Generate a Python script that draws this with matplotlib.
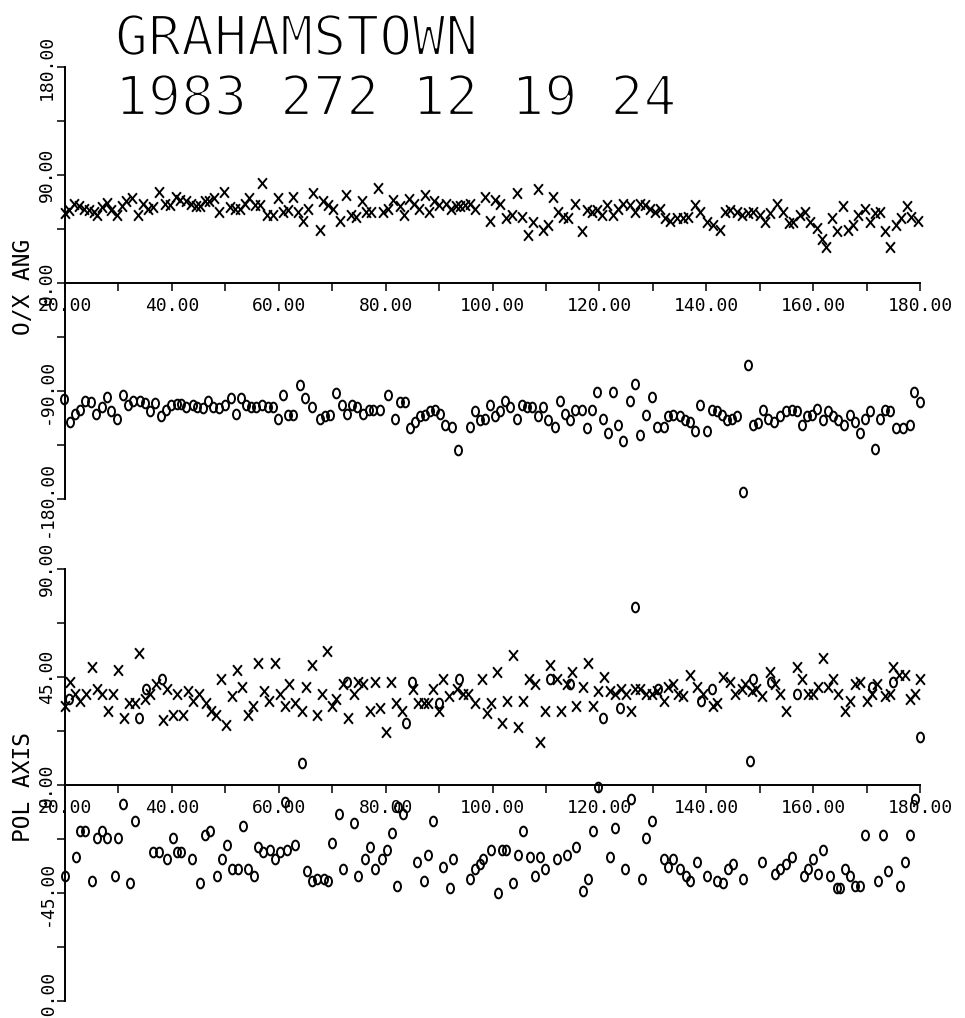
import numpy as np
import matplotlib
matplotlib.use("Agg")
import matplotlib.pyplot as plt
from matplotlib.path import Path
from matplotlib.transforms import Affine2D
from matplotlib.ticker import MultipleLocator, FormatStrFormatter
import matplotlib.patheffects as pe

# ---------------- data ----------------
title_line1 = "GRAHAMSTOWN"
title_line2 = "1983 272 12 19 24"
top_ylabel = "O/X ANG"
bottom_ylabel = "POL AXIS"

# O/X angle, X mode
top_x_freq = [20.0, 20.8, 21.7, 22.7, 23.6, 24.5, 25.4, 26.0, 26.9, 27.8, 28.7, 29.7, 30.6, 31.5, 32.6,
              33.7, 34.6, 35.6, 36.5, 37.6, 38.7, 39.6, 40.7, 41.6, 42.6, 43.5, 44.5, 45.2, 46.2, 47.0,
              47.9, 48.8, 49.7, 50.8, 51.8, 52.7, 53.6, 54.5, 55.5, 56.4, 56.9, 57.8, 58.9, 59.9, 60.8,
              61.7, 62.7, 63.6, 64.5, 65.5, 66.4, 67.7, 68.3, 69.2, 70.2, 71.4, 72.6, 73.6, 74.5, 75.5,
              76.4, 77.3, 78.6, 79.5, 80.4, 81.3, 82.6, 83.5, 84.4, 85.4, 86.3, 87.3, 88.2, 89.1, 90.0,
              91.3, 92.2, 93.1, 94.0, 94.9, 95.8, 96.7, 98.6, 99.5, 100.5, 101.4, 102.6, 103.6, 104.5,
              105.5, 106.7, 107.6, 108.6, 109.5, 110.4, 111.4, 112.3, 113.2, 114.2, 115.4, 116.7, 117.6,
              118.6, 119.5, 120.4, 121.4, 122.6, 123.5, 124.5, 125.7, 126.7, 127.6, 128.5, 129.5, 130.4,
              131.3, 132.3, 133.2, 134.5, 135.7, 136.6, 137.9, 138.8, 140.1, 141.3, 142.6, 143.5, 144.4,
              145.7, 146.6, 147.9, 148.8, 150.0, 151.0, 151.9, 153.2, 154.4, 155.4, 156.3, 157.5, 158.5,
              159.4, 160.7, 161.6, 162.5, 163.5, 164.4, 165.6, 166.6, 167.5, 168.4, 169.7, 170.6, 171.5,
              172.5, 173.4, 174.3, 175.6, 176.5, 177.5, 178.4, 179.7]
top_x_val = [58, 61, 66, 64, 62, 61, 59, 57, 63, 67, 61, 57, 64, 68, 71,
             57, 66, 62, 63, 76, 66, 65, 72, 69, 68, 66, 64, 64, 68, 68,
             71, 59, 76, 63, 62, 62, 66, 71, 65, 65, 83, 57, 57, 71, 59,
             61, 72, 59, 52, 62, 75, 44, 68, 65, 62, 52, 73, 57, 55, 68,
             59, 59, 79, 59, 62, 69, 64, 57, 70, 66, 62, 73, 59, 68, 65,
             66, 62, 64, 64, 65, 66, 62, 72, 52, 69, 66, 54, 57, 75,
             55, 40, 51, 78, 44, 48, 72, 59, 55, 54, 66, 43, 61,
             59, 61, 57, 65, 57, 62, 66, 65, 59, 66, 65, 62, 59,
             62, 54, 52, 54, 54, 55, 65, 59, 51, 48, 44, 59, 61,
             59, 57, 58, 59, 57, 51, 58, 66, 59, 50, 51, 57, 59,
             51, 46, 37, 30, 54, 43, 64, 44, 48, 57, 62, 51, 58,
             59, 43, 30, 48, 54, 64, 55, 52]

# O/X angle, O mode
top_o_freq = [19.8, 20.9, 21.9, 22.8, 23.7, 24.8, 25.8, 26.9, 27.8, 28.7, 29.8, 30.8, 31.8, 32.8, 34.0,
              35.0, 35.9, 36.9, 37.9, 38.9, 39.9, 40.9, 41.8, 42.7, 43.9, 44.7, 45.9, 46.8, 47.7, 48.8,
              49.9, 51.0, 52.0, 53.0, 53.9, 54.9, 55.8, 56.9, 58.0, 58.9, 59.9, 60.8, 61.7, 62.7, 64.0,
              64.9, 66.2, 67.7, 68.7, 69.6, 70.8, 71.8, 72.7, 73.7, 74.6, 75.8, 76.8, 77.7, 79.0, 80.5,
              81.8, 82.7, 83.6, 84.6, 85.5, 86.4, 87.4, 88.3, 89.3, 90.2, 91.1, 92.4, 93.6, 95.8, 96.7,
              97.7, 98.6, 99.5, 100.5, 101.4, 102.3, 103.3, 104.5, 105.5, 106.4, 107.3, 108.6, 109.5,
              110.4, 111.7, 112.6, 113.6, 114.5, 115.4, 116.7, 117.6, 118.6, 119.5, 120.7, 121.7, 122.6,
              123.5, 124.5, 125.7, 126.7, 127.6, 128.8, 129.8, 130.7, 132.0, 132.9, 133.8, 135.1, 136.0,
              136.9, 137.9, 138.8, 140.1, 141.0, 142.0, 142.9, 143.8, 144.8, 145.7, 146.9, 147.9, 148.8,
              149.7, 150.7, 151.6, 152.6, 153.8, 155.0, 156.0, 156.9, 157.9, 158.8, 159.7, 160.7, 161.9,
              162.8, 163.8, 164.7, 165.7, 166.9, 167.8, 168.8, 169.7, 170.6, 171.6, 172.5, 173.4, 174.4,
              175.6, 176.9, 178.1, 178.8, 180.0]
top_o_val = [-97, -116, -109, -106, -98, -99, -109, -103, -95, -107, -113, -93, -102, -98, -98,
             -100, -107, -100, -111, -106, -102, -101, -101, -103, -102, -103, -104, -98, -103, -104,
             -102, -96, -109, -96, -102, -103, -103, -102, -103, -103, -113, -93, -110, -110, -85,
             -96, -103, -113, -111, -110, -92, -102, -109, -102, -103, -109, -106, -106, -106, -93,
             -113, -99, -99, -121, -116, -111, -110, -107, -106, -109, -118, -120, -139, -120, -107,
             -114, -113, -102, -111, -107, -98, -103, -113, -102, -103, -103, -111, -103,
             -114, -120, -98, -109, -114, -106, -106, -121, -106, -91, -113, -125, -91,
             -118, -132, -98, -84, -127, -110, -95, -120, -120, -111, -110, -111, -114,
             -116, -123, -102, -123, -106, -107, -110, -114, -113, -111, -174, -68, -118,
             -117, -106, -113, -116, -111, -107, -106, -107, -118, -111, -110, -105, -114,
             -107, -111, -114, -118, -110, -116, -125, -113, -107, -138, -113, -106, -107,
             -121, -121, -118, -91, -99]

# polarisation axis, X mode
pol_x_freq = [20.0, 20.9, 21.9, 22.9, 24.0, 25.0, 26.0, 27.0, 28.1, 29.0, 30.0, 31.0, 32.0, 33.1, 33.9,
              35.0, 35.9, 37.1, 38.3, 39.1, 40.2, 41.0, 42.1, 43.1, 44.0, 45.1, 46.4, 47.4, 48.2, 49.1,
              50.2, 51.2, 52.1, 53.2, 54.3, 55.2, 56.1, 57.2, 58.2, 59.3, 60.2, 61.1, 61.9, 63.1, 64.3,
              65.1, 66.2, 67.1, 68.0, 69.0, 69.9, 70.8, 72.1, 73.0, 74.0, 74.9, 75.8, 77.0, 78.0, 79.0,
              80.1, 81.0, 81.9, 83.0, 85.2, 86.1, 87.1, 88.0, 88.9, 89.9, 90.8, 91.9, 93.3, 94.5, 95.5,
              96.7, 98.0, 98.9, 99.8, 100.8, 101.7, 102.8, 103.8, 104.8, 105.8, 106.9, 107.9, 108.9,
              109.8, 110.8, 112.0, 112.9, 113.9, 114.8, 115.7, 116.9, 117.9, 118.9, 119.8, 120.9, 121.9,
              122.9, 124.0, 125.0, 126.0, 126.7, 127.6, 128.8, 129.8, 130.7, 132.0, 132.9, 133.8, 134.8,
              135.7, 137.0, 138.2, 139.4, 141.3, 142.0, 143.2, 144.4, 145.4, 146.6, 147.2, 148.5, 149.4,
              150.4, 151.9, 152.9, 153.8, 155.0, 156.9, 157.9, 159.1, 160.0, 161.0, 161.9, 162.8, 163.8,
              164.7, 166.0, 166.9, 167.8, 168.8, 170.0, 171.0, 171.9, 173.4, 174.4, 175.0, 176.0, 177.2,
              178.1, 179.1, 180.0]
pol_x_val = [33, 43, 38, 35, 38, 49, 40, 38, 31, 38, 48, 28, 34, 34, 55,
             36, 38, 42, 27, 40, 29, 38, 29, 39, 35, 38, 34, 31, 29, 44,
             25, 37, 48, 41, 29, 33, 51, 39, 35, 51, 38, 33, 42, 34, 31,
             41, 50, 29, 38, 56, 33, 36, 42, 28, 38, 43, 42, 31, 43, 32,
             22, 43, 34, 31, 40, 34, 34, 34, 40, 31, 44, 37, 40, 38, 38,
             34, 44, 30, 34, 47, 26, 35, 54, 24, 35, 44, 42, 18,
             31, 50, 44, 31, 42, 47, 33, 41, 51, 33, 39, 45, 39,
             38, 40, 38, 31, 40, 40, 38, 38, 39, 35, 41, 42, 38,
             37, 46, 41, 38, 33, 34, 45, 43, 38, 40, 42, 39, 40,
             37, 47, 42, 38, 31, 49, 44, 38, 38, 41, 53, 41, 44,
             38, 31, 35, 42, 43, 35, 38, 42, 37, 38, 49, 46, 46,
             36, 38, 44]

# polarisation axis, O mode
pol_o_freq = [20.8, 33.9, 35.1, 38.1, 64.3, 72.7, 83.9, 84.9, 89.9, 93.8, 110.8, 114.5, 120.7, 123.9,
              126.7, 131.0, 139.1, 141.0, 148.2, 148.8, 152.2, 156.9, 171.0, 175.0, 180.0,
              20.0, 22.1, 22.8, 23.7, 25.0, 25.9, 26.9, 27.8, 29.4, 30.0, 30.9, 32.2, 33.1, 36.5, 37.5,
              39.0, 40.3, 40.9, 41.8, 43.7, 45.3, 46.2, 47.1, 48.4, 49.3, 50.3, 51.2, 52.4, 53.4, 54.3,
              55.3, 56.2, 57.1, 58.4, 59.3, 60.2, 61.2, 61.5, 63.1, 65.2, 66.2, 67.1, 68.4, 69.3, 69.9,
              71.2, 72.1, 74.0, 74.9, 76.2, 77.1, 78.0, 79.3, 80.2, 81.1, 82.1, 82.4, 83.3, 85.8, 87.1,
              88.0, 88.9, 90.8, 92.1, 92.7, 95.8, 96.7, 97.7, 98.3, 99.8, 101.1, 101.7, 102.6, 103.9,
              104.8, 105.8, 107.0, 107.9, 108.9, 109.8, 112.0, 113.9, 115.7, 117.0, 117.9, 118.9, 119.8,
              122.0, 122.9, 124.8, 126.0, 127.9, 128.8, 129.8, 132.0, 132.9, 133.8, 135.1, 136.3, 137.0,
              138.2, 140.1, 142.0, 143.2, 144.1, 145.0, 146.9, 150.4, 152.9, 153.8, 155.0, 156.0, 158.2,
              159.1, 160.0, 161.0, 161.9, 163.2, 164.4, 165.0, 166.0, 166.9, 167.8, 168.8, 169.7, 172.2,
              173.1, 174.1, 176.3, 177.2, 178.1, 179.1]
pol_o_val = [36, 28, 40, 44, 9, 43, 26, 43, 34, 44, 44, 42, 28, 32,
             74, 40, 35, 40, 10, 44, 43, 38, 41, 43, 20,
             -38, -30, -19, -19, -40, -22, -19, -22, -38, -22, -8, -41, -15, -28, -28,
             -31, -22, -28, -28, -31, -41, -21, -19, -38, -31, -25, -35, -35, -17, -35,
             -38, -26, -28, -27, -31, -28, -7, -27, -25, -36, -40, -39, -39, -40, -24,
             -12, -35, -16, -38, -31, -26, -35, -31, -27, -20, -42, -9, -12, -32, -40,
             -29, -15, -34, -43, -31, -39, -35, -33, -31, -27, -45, -27, -27, -41,
             -29, -19, -30, -38, -30, -35, -31, -29, -26, -44, -39, -19, -1,
             -30, -18, -35, -6, -39, -22, -15, -31, -34, -31, -35, -38, -40,
             -32, -38, -40, -41, -35, -33, -39, -32, -37, -35, -33, -30, -38,
             -35, -31, -37, -27, -38, -43, -43, -35, -38, -42, -42, -21, -40,
             -21, -36, -42, -32, -21, -6]

# ---------------- styling ----------------
plt.rcParams["font.family"] = ["DejaVu Sans Mono", "DejaVu Sans"]

W, H = 965, 1018
fig = plt.figure(figsize=(W / 100, H / 100), dpi=100)
fig.patch.set_facecolor("white")

x_marker = Path([(-0.42, -0.5), (0.42, 0.5), (-0.42, 0.5), (0.42, -0.5)],
                [Path.MOVETO, Path.LINETO, Path.MOVETO, Path.LINETO])
o_marker = Path.unit_circle().transformed(Affine2D().scale(0.72, 1.0))


def style_axes(ax, ylim, ymajor, yminor):
    ax.set_xlim(20, 180)
    ax.set_ylim(*ylim)
    for s in ("top", "right"):
        ax.spines[s].set_visible(False)
    ax.spines["bottom"].set_position(("data", 0))
    for s in ("left", "bottom"):
        ax.spines[s].set_linewidth(1.4)
    ax.xaxis.set_major_locator(MultipleLocator(20))
    ax.xaxis.set_minor_locator(MultipleLocator(10))
    ax.yaxis.set_major_locator(MultipleLocator(ymajor))
    ax.yaxis.set_minor_locator(MultipleLocator(yminor))
    ax.xaxis.set_major_formatter(FormatStrFormatter("%.2f"))
    ax.yaxis.set_major_formatter(FormatStrFormatter("%.2f"))
    ax.tick_params(which="both", direction="out", length=6, width=1.1, color="black")
    ax.tick_params(axis="x", which="major", labelsize=13, pad=4)
    ax.tick_params(axis="y", which="major", labelsize=13, pad=0.5, labelrotation=90)
    for lab in ax.get_yticklabels():
        lab.set_verticalalignment("center")
    ax.patch.set_alpha(0)


ax1 = fig.add_axes([65 / W, 1 - 499 / H, 855 / W, 432 / H])
ax2 = fig.add_axes([65 / W, 1 - 1001 / H, 855 / W, 432 / H])
style_axes(ax1, (-180, 180), 90, 45)
style_axes(ax2, (-90, 90), 45, 22.5)

mk = dict(linestyle="none", color="black", mfc="none", mew=1.4, clip_on=False)
ax1.plot(top_x_freq, top_x_val, marker=x_marker, ms=7.6, **mk)
ax1.plot(top_o_freq, top_o_val, marker=o_marker, ms=7.0, **mk)
ax2.plot(pol_x_freq, pol_x_val, marker=x_marker, ms=7.6, **mk)
ax2.plot(pol_o_freq, pol_o_val, marker=o_marker, ms=7.0, **mk)

thin = [pe.Stroke(linewidth=1.6, foreground="white")]
fig.text(115 / W, 1 - 55 / H, title_line1, fontsize=39.5, ha="left", va="baseline",
         path_effects=thin)
fig.text(115 / W, 1 - 115 / H, title_line2, fontsize=39.5, ha="left", va="baseline",
         path_effects=thin)

fig.text(24 / W, 1 - 287 / H, top_ylabel, fontsize=16.5, rotation=90, ha="center", va="center")
fig.text(24 / W, 1 - 787 / H, bottom_ylabel, fontsize=16.5, rotation=90, ha="center", va="center")

fig.savefig("out.png", dpi=100, facecolor="white")
